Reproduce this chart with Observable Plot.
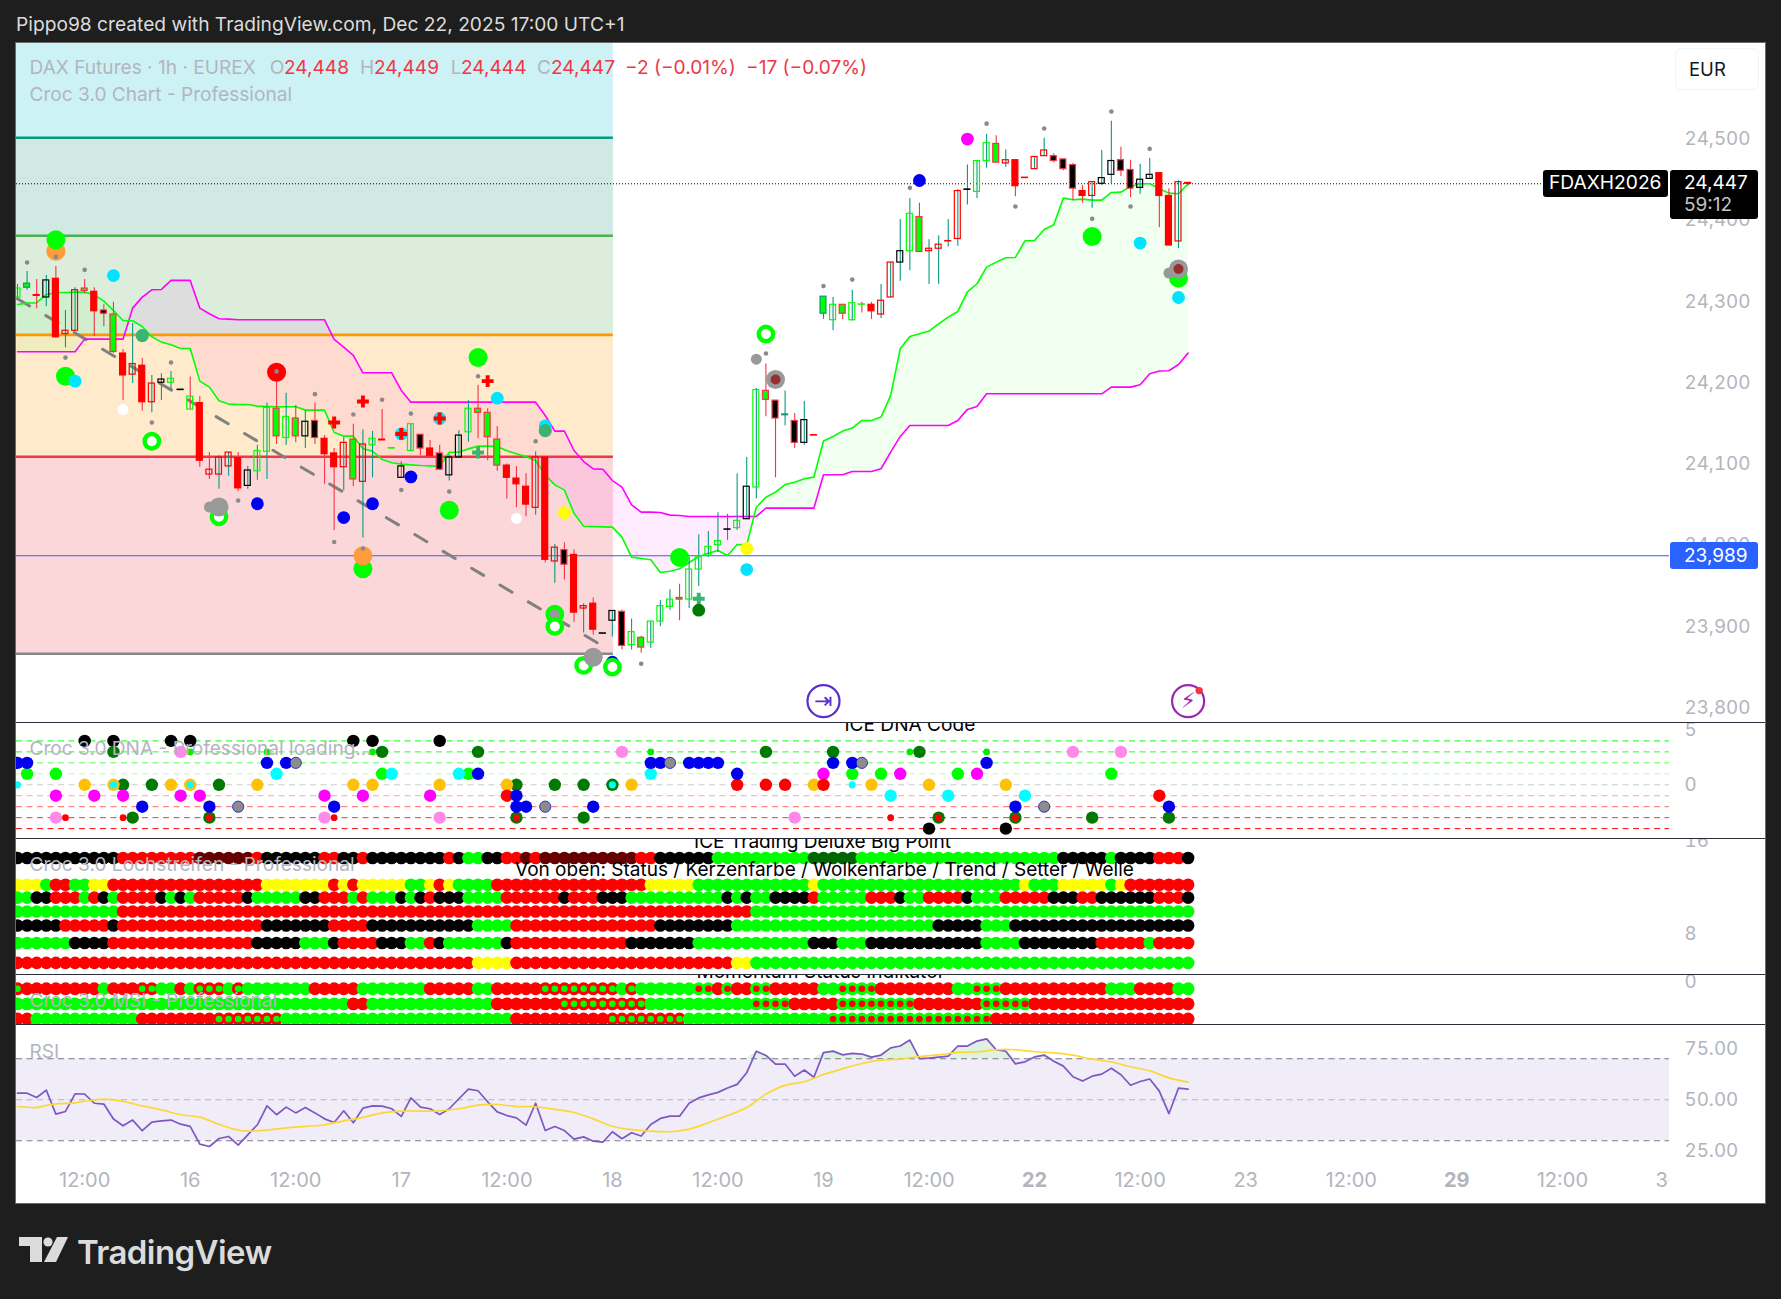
<!DOCTYPE html>
<html><head><meta charset="utf-8">
<script src="https://cdn.jsdelivr.net/npm/d3@7"></script>
<script src="https://cdn.jsdelivr.net/npm/@observablehq/plot@0.6"></script>
<style>
html,body{margin:0;padding:0;background:#1e1e1e;}
#page{position:relative;width:1781px;height:1299px;overflow:hidden;background:#1e1e1e;font-family:Inter,"Noto Sans",sans-serif;}
#card{position:absolute;left:15px;top:42px;width:1749px;height:1160px;background:#fff;border:1px solid #6a6a6a;}
.t{position:absolute;white-space:nowrap;line-height:1;transform:translateY(-50%);}
.g{color:#b2b5be;font-size:19.1px;}
.r{color:#f23645;font-size:19.1px;}
.line{position:absolute;left:16px;width:1749px;height:1.4px;background:#2a2e39;}
svg{max-width:none;}
</style></head><body><div id="page"><div id="card"></div></div>
<script>
// ---------- candles (price, one entry per 1h bar) ----------
const high=[24323,24339,24329,24334,24345,24291,24319,24329,24319,24298,24301,24243,24275,24232,24211,24213,24216,24193,24209,24185,24116,24112,24116,24116,24099,24125,24177,24215,24189,24174,24167,24177,24137,24121,24135,24151,24144,24142,24169,24121,24105,24151,24138,24131,24125,24113,24143,24180,24199,24170,24148,24102,24099,24090,24117,24110,24003,24005,23996,23930,23937,23893,23921,23922,23911,23890,23908,23934,23947,23954,23987,24015,24019,24042,24040,24090,24110,24195,24225,24180,24192,24164,24179,24137,24308,24307,24298,24316,24301,24301,24323,24350,24403,24429,24423,24378,24383,24403,24440,24470,24475,24508,24506,24489,24476,24454,24480,24503,24484,24477,24472,24445,24449,24488,24524,24492,24476,24471,24478,24460,24441,24451,24449];
const bodyTop=[24318,24324,24310,24328,24330,24266,24316,24318,24314,24291,24286,24238,24225,24223,24201,24206,24207,24193.5,24185,24177,24095,24110,24116,24109,24094,24118,24171,24170,24160,24158,24154,24155,24133,24115,24128,24132,24126,24133,24132,24121.5,24099,24151,24138,24121,24115,24110,24137,24170,24170,24165,24132,24100,24084,24074,24110,24110,23999,23996,23990,23927,23930,23893.5,23921,23920,23895,23888,23908,23927,23935,23937,23972,23988,24000,24007,24021.5,24032,24074,24193,24192,24180,24163,24155,24156,24137.5,24308,24298,24298,24300,24298.5,24298,24303,24350,24364,24410,24406,24367,24372,24376.5,24438,24440,24475,24497,24496,24476,24476,24454.5,24480,24488,24481,24477,24470,24438,24449,24454,24475,24476,24464,24452,24458,24460,24432,24449,24448];
const bodyBottom=[24307,24319,24309,24307,24258,24262,24266,24315,24290,24287,24240,24211,24212,24178,24178,24202,24202,24193,24169,24106,24089,24089,24099,24072,24075,24093,24117,24136,24134,24136,24136,24134,24114,24098,24098,24083,24080,24125,24131,24121,24085,24118,24121,24112,24095,24088,24110,24141,24165,24135,24100,24085,24077,24052,24048,23984,23982,23978,23919,23924,23898,23893,23909,23878,23879,23876,23882,23908,23926,23935,23935,23972,23989,24002,24021,24023,24034,24073,24181,24158,24162,24128,24128,24137,24287,24279,24287,24279,24298,24290,24286,24307,24350,24364,24363,24364,24367,24376,24379,24439.5,24437,24475,24473,24472,24444,24454,24465,24481,24475,24465,24441,24432,24432,24447,24458,24463,24441,24442,24453,24432,24371,24376,24447];
const low=[24305,24316,24293,24296,24257,24245,24266,24311,24259,24271,24238,24180,24201,24167,24165,24180,24193,24193,24169,24098,24083,24071,24087,24068,24071,24082,24083,24126,24125,24128,24121,24126,24077,24020,24069,24074,24011,24085,24131,24121,24085,24118,24112,24112,24094,24081,24110,24129,24133,24106,24093,24059,24048,24037,24039,23980,23955,23959,23907,23894,23891,23893,23889,23873,23873,23869,23875,23902,23922,23909,23924,23951,23987,23993,24008,24020,24034,24059,24160,24085,24149,24121,24125,24137,24280,24266,24280,24278,24288,24280,24281,24307,24327,24340,24363,24323,24323,24369,24370,24421,24429,24466,24473,24467,24431,24454,24465,24481,24473,24463,24426,24423,24417,24445,24447,24456,24430,24434,24453,24393,24371,24367,24444];
const candleStyle="gTRkRrrGRKGRrRrkgkhRqrrRkggGgGkKRRrGrgRgjgKRKkkgGGGRRRrRrKRrRkkKgGgggGggggkgkgGKTKkRTgGghRrrkgGrrrrkggGrRRrrKKKRrkkKKkkRRrR".split("");
// ---------- cloud ----------
const fastLine=[24298.4,24300,24300.5,24310.7,24312.8,24313.2,24313.6,24313.6,24310.3,24302.5,24291,24278.7,24278.3,24271.3,24258.6,24252,24248.8,24244.2,24244.2,24204,24196.6,24179.8,24175.7,24175.3,24175.3,24173.2,24172.8,24172.4,24172.4,24172.4,24168.3,24168.3,24168.3,24140.8,24136.3,24136.3,24120.7,24117.8,24107.6,24103.5,24101.8,24100.9,24100.1,24099.7,24098.9,24116.5,24116.5,24120.6,24124,24124,24123.5,24118.2,24114.5,24110.8,24106.3,24088.2,24076.3,24069.8,24041.4,24025.4,24025,24024.6,24024.2,24011.9,23987.3,23985.6,23984,23968.4,23970,23972.9,23980.7,23988.1,23992.2,23995.5,23989.3,24002.9,24002.4,24048.8,24061.1,24067.3,24076.7,24079.6,24083.8,24085.8,24130.2,24135.9,24142.5,24146.2,24155.6,24155.6,24159.7,24186.4,24243.8,24259,24262.3,24265.6,24274.6,24282.8,24289.8,24314,24323.9,24344.4,24350.5,24355.9,24356.3,24376.8,24377.2,24390.8,24396.5,24429.3,24427.3,24428.1,24426.9,24426.9,24436.3,24436.7,24443.7,24447,24447,24440.8,24435.5,24434.7,24447];
const slowLine=[24240.1,24240.1,24240.1,24240.1,24240.1,24240.1,24240.1,24255.7,24255.7,24255.7,24255.7,24255.7,24293.9,24307.4,24316.5,24316.9,24328,24328,24328,24293.9,24286.9,24280.8,24280.3,24279.5,24279.5,24279.5,24279.5,24279.5,24279.5,24279.5,24279.5,24279.5,24279.5,24255.3,24245.9,24235.6,24214.3,24214.3,24214.3,24214.3,24192.5,24178.1,24178.1,24178.1,24178.1,24178.1,24178.1,24178.1,24178.1,24178.1,24178.1,24178.1,24178.1,24178.1,24178.1,24161.7,24142.4,24142.4,24118.6,24105,24096,24095.6,24081.6,24073.4,24051.7,24042.7,24042.7,24042.3,24039,24038.6,24037.4,24037.4,24037.4,24037.4,24037.4,24037.4,24037.4,24037.4,24047.6,24047.6,24047.6,24047.6,24047.6,24047.6,24088.7,24088.7,24088.7,24092.8,24092.8,24092.8,24096.1,24116.6,24135.9,24149.4,24149.4,24149.4,24149.4,24149.4,24155.6,24169.2,24172.8,24188.4,24188.4,24188.4,24188.4,24188.4,24188.4,24188.4,24188.4,24188.4,24188.4,24188.4,24188.4,24188.4,24196.6,24196.6,24196.6,24199.5,24213,24216.4,24216.8,24224.5,24238.5];
// ---------- levels ----------
const fibLevels=[24503.6,24383,24261,24110.9,23868.3];
const fibLineColors=["#089981","#4caf50","#ff9800","#f23645","#888888"];
const fibBandColors=["#cdf2f5","#d0eae3","#dceedb","#ffebcc","#fcd7da"];
const lastPrice=24447, alertPrice=23989;
const trendFrom=[0,24305.4], trendTo=[60.6,23880.6];
const priceTicks=[24500,24400,24300,24200,24100,24000,23900,23800];
// ---------- markers on the price pane ----------
const dotOrangeUnder=[[4,24364]], dotOrangeOver=[[36,23989]];
const dotGreen=[[4,24378],[5,24210],[48,24233],[36,23973],[45,24045],[69,23987],[112,24382],[121,24331]];
const dotRed=[[27,24215]];
const dotCyan=[[6,24204],[10,24334],[44,24158],[40,24139],[50,24183],[55,24149],[76,23972],[117,24374],[121,24307]];
const dotBlue=[[25,24053],[34,24036],[37,24053],[41,24086],[94,24451],[62,23858]];
const dotWhite=[[11,24169],[52,24035]];
const dotMagenta=[[99,24502]];
const dotYellow=[[57,24042],[76,23998]];
const dotDark=[[71,23922]];
const dotSea=[[13,24260],[55,24143]];
const crossSea=[[48,24116],[71,23936]];
const crossRed=[[33,24153],[36,24179],[40,24139],[44,24158],[49,24204]];
const ringWhite=[[14,24130],[21,24037],[56,23902],[59,23854],[62,23852],[78,24262]];
const ringGray=[[56,23917]];
const grayLarge=[[21,24049],[60,23864],[79,24206],[121,24342]];
const grayMid=[[20,24049],[77,24231],[120,24337]];
const brown=[[79,24206],[121,24342]];
const graySmall=[[1,24350],[4,24357],[7,24341],[5,24233],[16,24227],[14,24153],[23,24057],[27,24216],[31,24188],[33,24006],[36,23998],[35,24163],[38,24181],[40,24070],[41,24164],[48,24210],[54,24130],[45,24068],[65,23856],[78,24238],[84,24321],[87,24329],[93,24442],[101,24521],[104,24419],[107,24515],[112,24404],[114,24536],[116,24419],[118,24490]];
const eventBars=[84,122], eventPrice=23810, eventBadge=[[123.15,23823]];
// ---------- DNA pane ----------
const dnaLevels=[4,3,2,1,0,-1,-2,-3,-4];
const dnaLevelColors=["#00ff00","#22ff22","#55ff55","#b4ffb4","#cccccc","#ffa6a6","#ff6666","#ff3333","#ff0000"];
const dnaBlack=[[7,4],[10,4],[16,4],[18,4],[35,4],[37,4],[44,4],[95,-4],[103,-4]];
const dnaDarkGreen=[[10,3],[38,3],[48,3],[11,0],[14,0],[21,0],[52,0],[56,0],[59,0],[62,0],[78,3],[85,3],[94,3],[12,-3],[20,-3],[52,-3],[59,-3],[96,-3],[104,-3],[112,-3],[120,-3]];
const dnaBlue=[[0,2],[1,2],[26,2],[28,2],[48,1],[13,-2],[20,-2],[33,-2],[52,-1],[52,-2],[53,-2],[60,-2],[66,2],[67,2],[70,2],[71,2],[72,2],[73,2],[75,1],[85,2],[87,2],[101,2],[104,-2],[120,-2]];
const dnaGreen=[[1,1],[4,1],[38,1],[47,1],[87,1],[90,1],[98,1],[114,1]];
const dnaOrange=[[7,0],[10,0],[16,0],[18,0],[25,0],[35,0],[37,0],[44,0],[51,0],[64,0],[83,0],[89,0],[95,0],[103,0]];
const dnaMagenta=[[4,-1],[8,-1],[11,-1],[17,-1],[19,-1],[32,-1],[36,-1],[43,-1],[84,1],[92,1],[100,1]];
const dnaPink=[[17,3],[4,-3],[32,-3],[44,-3],[63,3],[81,-3],[110,3],[115,3]];
const dnaCyan=[[27,1],[39,1],[46,1],[66,1],[91,-1],[97,-1],[105,-1]];
const dnaRed=[[51,-1],[75,0],[78,0],[80,0],[84,0],[119,-1]];
const dnaGray=[[29,2],[23,-2],[55,-2],[68,2],[88,2],[107,-2]];
const dnaSmallGreen=[[18,3],[26,3],[37,3],[66,3],[93,3],[101,3]];
const dnaSmallRed=[[5,-3],[11,-3],[20,-3],[33,-3],[52,-3],[91,-3],[96,-3],[104,-3]];
const dnaSmallCyan=[[0,0],[10,0],[18,0],[62,0],[87,0]];
// ---------- Lochstreifen pane: runs of [colour code, bars] ----------
const lochRowValues=[14.5,12.2,11.1,9.9,8.7,7.2,5.5];
const loch0=[["k",11],["r",8],["d",6],["r",1],["k",6],["r",2],["k",2],["r",1],["k",8],["r",1],["k",1],["g",2],["k",2],["r",2],["d",1],["r",1],["d",10],["r",2],["k",6],["g",10],["D",5],["g",21],["k",5],["g",1],["k",4],["r",3],["k",1]];
const loch1=[["y",3],["g",1],["r",2],["g",2],["y",2],["r",16],["y",7],["r",1],["y",1],["r",1],["y",5],["g",2],["y",1],["r",1],["y",1],["g",4],["r",16],["y",5],["g",12],["y",1],["g",21],["y",1],["g",3],["y",5],["g",1],["y",1],["r",7]];
const loch2=[["g",2],["k",2],["r",3],["g",1],["r",1],["k",1],["g",1],["r",4],["k",1],["g",1],["k",1],["g",1],["r",5],["k",1],["g",5],["k",2],["r",3],["g",1],["r",1],["g",3],["k",1],["g",1],["k",1],["r",1],["k",3],["g",4],["r",6],["k",1],["r",3],["k",3],["g",10],["k",1],["g",1],["k",1],["g",2],["k",4],["r",1],["g",5],["r",3],["k",1],["g",2],["r",4],["k",1],["g",3],["r",5],["k",3],["r",2],["k",6],["r",3],["k",1]];
const loch3=[["g",11],["r",66],["g",46]];
const loch4=[["k",5],["r",5],["k",1],["r",15],["k",7],["r",4],["k",11],["g",4],["r",15],["k",8],["g",21],["k",5],["g",3],["k",19]];
const loch5=[["g",6],["k",4],["r",15],["k",5],["g",3],["k",1],["r",4],["k",3],["g",2],["r",1],["k",1],["g",6],["k",1],["r",12],["k",7],["g",12],["k",3],["g",3],["k",12],["g",4],["k",8],["r",5],["g",1],["r",4]];
const loch6=[["r",48],["y",4],["r",23],["y",2],["g",46]];
// ---------- MSI pane: R = red with green centre, G = green with red centre ----------
const msiRowValues=[-0.5,-1.5,-2.5];
const msi0=[["R",1],["r",8],["g",1],["r",3],["R",2],["g",2],["r",1],["g",1],["R",3],["g",1],["R",1],["g",7],["r",5],["g",7],["r",5],["g",2],["r",5],["R",8],["g",1],["R",1],["g",6],["G",2],["r",1],["G",1],["r",2],["G",2],["r",5],["g",2],["G",4],["r",8],["g",2],["G",3],["r",11],["g",3],["r",4],["g",2]];
const msi1=[["g",35],["r",2],["g",13],["r",7],["R",9],["g",11],["G",4],["r",5],["G",8],["r",7],["G",5],["r",17]];
const msi2=[["r",2],["g",11],["r",8],["R",7],["g",24],["r",10],["R",8],["g",15],["G",17],["r",21]];
// ---------- RSI pane ----------
const rsi=[53.2,53.2,51.1,54.7,43,44.3,52.9,52.8,48.3,47.9,40.6,37.3,40.1,34.9,39.1,39.7,40.1,38.1,37,28.4,27.2,31.1,32.1,27.9,32.9,37.8,47,42.7,46.4,43.6,46.2,43.6,40.7,38.9,44.6,38.8,45.9,47,46.9,45.6,41.9,50.9,46.4,45.6,42.8,45.6,50.5,55.2,54.4,49,44.1,42.3,41.2,37.6,48.3,35,37,35,30.8,31.9,29.8,29.3,34.4,31,33.9,32.3,37.9,40.9,42,42,48.3,50.9,52.4,53.6,55.7,57.5,63.2,73.7,71.6,67.4,67.4,61.5,64.5,61,73,73.7,71.9,72.6,72.3,70.8,71.8,75.3,76.2,79.1,70.1,70.3,70.8,71.3,76.2,76.2,78.6,79.7,74.4,73.7,67.5,68.5,70.9,71.8,68.8,66.4,61.2,59.1,61.5,62.5,65.4,62.2,57.1,58.9,60.1,54.2,43.2,55.7,55.2];
const rsiMa=[[0,46.7],[2,46.2],[3,47.2],[4,48],[6,48.5],[7,49.3],[9,50.3],[11,49.2],[13,47],[15,45.1],[17,42.7],[19,41.5],[21,38],[23,35.2],[24,34.7],[26,35.2],[28,36.3],[30,37],[32,37.8],[34,39.7],[36,41.4],[38,43.6],[40,44.5],[42,44.5],[44,44.6],[46,45.6],[48,47.4],[50,47.7],[52,46.7],[54,46.6],[56,45.3],[58,43.8],[60,40.7],[62,37.1],[64,35.4],[66,34.7],[68,34.4],[70,35.7],[72,38.8],[74,42.3],[76,46.2],[78,52.7],[80,57],[82,58.8],[84,62.3],[86,65.1],[88,67.7],[90,69.3],[92,69.8],[94,71.1],[96,71.9],[98,73.1],[100,73.4],[102,74.4],[104,74.4],[106,73.4],[108,72.9],[110,71.8],[112,69.8],[114,68.4],[116,66.1],[118,64.1],[120,60.7],[122,58.6]];
const rsiBands=[70,50,30];
const rsiBandColors=["#787b86","#b2b5be","#787b86"];
// ---------- time axis ----------
const timeBars=[7,18,29,40,51,62,73,84,95,106,117,128,139,150,161,172];
const timeLabels=["12:00","16","12:00","17","12:00","18","12:00","19","12:00","22","12:00","23","12:00","29","12:00","30"];
const boldLabels=["22","29"];

// ---------- helpers ----------
const page=document.getElementById("page");
const xDomain=[-0.104,172.17];
const bars=d3.range(123);
const pts=a=>a.map(([i,v])=>({i,v}));
const dots=(a,fill,r,extra={})=>Plot.dot(pts(a),{x:"i",y:"v",fill,r,...extra});
function addPane(top,height,yDomain,ticks,fmt,marks,labelDy=0.5){
  const svg=Plot.plot({width:1749,height,marginLeft:0,marginRight:96,marginTop:0,marginBottom:0,
    x:{domain:xDomain,axis:null},y:{domain:yDomain,axis:null},color:{type:"identity"},
    style:{background:"transparent",fontFamily:"Inter, sans-serif",fontSize:"18.8px",overflow:"hidden"},
    marks:[...marks,Plot.axisY({anchor:"right",ticks,tickFormat:fmt,tickSize:0,tickPadding:15,label:null,color:"#b2b5be",dy:labelDy})]});
  svg.style.position="absolute";svg.style.left="16px";svg.style.top=top+"px";
  page.appendChild(svg);
  return svg;
}
const expand=runs=>runs.flatMap(([c,n])=>d3.range(n).map(()=>c));
const colorCode={k:"#000000",r:"#ff0000",g:"#00ff00",y:"#ffff00",d:"#660000",D:"#006600",R:"#ff0000",G:"#00ff00"};
const rowTable=(rows,values)=>rows.flatMap((runs,row)=>expand(runs).map((c,i)=>({i,v:values[row],c})));

// ---------- price pane ----------
const styleFill={R:"#ff0000",r:"none",q:"none",G:"#00ff00",g:"none",h:"none",K:"#000000",k:"none",j:"none",T:"#00ff00"};
const styleStroke={R:"#ff0000",r:"#ff0000",q:"#ff0000",G:"#f23645",g:"#00ff00",h:"#00ff00",K:"#f23645",k:"#000000",j:"#000000",T:"#089981"};
const styleWick={R:"#f23645",r:"#089981",q:"#f23645",G:"#f23645",g:"#089981",h:"#f23645",K:"#f23645",k:"#089981",j:"#f23645",T:"#089981"};
const fibEdges=[24620,...fibLevels];
const ring=(a,fill)=>dots(a,fill,7.2,{stroke:"#00ff00",strokeWidth:4.4});
const pricePlot=addPane(43,679,[23783.7,24619.7],priceTicks,d3.format(",.0f"),[
  Plot.rect(fibBandColors,{x1:xDomain[0],x2:62.1,y1:(d,k)=>fibEdges[k+1],y2:(d,k)=>fibEdges[k],fill:d=>d}),
  Plot.areaY(bars,{x:d=>d,y1:d=>slowLine[d],y2:d=>Math.max(slowLine[d],fastLine[d]),fill:"#00ff00",fillOpacity:.06}),
  Plot.areaY(bars,{x:d=>d,y1:d=>slowLine[d],y2:d=>Math.min(slowLine[d],fastLine[d]),fill:"#ff00ff",fillOpacity:.07}),
  Plot.ruleY(fibLevels,{x1:xDomain[0],x2:62.1,stroke:(d,k)=>fibLineColors[k],strokeWidth:2.6}),
  Plot.ruleY([alertPrice],{stroke:"#2962ff",strokeWidth:1}),
  Plot.ruleY([lastPrice],{stroke:"#000",strokeWidth:1,strokeDasharray:"1,2"}),
  Plot.line([trendFrom,trendTo],{x:d=>d[0],y:d=>d[1],stroke:"#808080",strokeWidth:3,strokeDasharray:"14,19"}),
  Plot.line(bars,{x:d=>d,y:d=>slowLine[d],stroke:"#ff00ff",strokeWidth:1.6}),
  Plot.line(bars,{x:d=>d,y:d=>fastLine[d],stroke:"#00ff00",strokeWidth:1.6}),
  Plot.ruleX(bars,{x:d=>d,y1:d=>low[d],y2:d=>high[d],stroke:d=>styleWick[candleStyle[d]],strokeWidth:1.1}),
  Plot.rect(bars,{x1:d=>d-.31,x2:d=>d+.31,y1:d=>bodyBottom[d],y2:d=>bodyTop[d],fill:d=>styleFill[candleStyle[d]],stroke:d=>styleStroke[candleStyle[d]],strokeWidth:1.2}),
  dots(dotOrangeUnder,"#ff9d3c",9.5),
  dots(dotGreen,"#00ff00",9.5),
  dots(dotOrangeOver,"#ff9d3c",9.5),
  dots(dotRed,"#ff0000",9.5),
  dots(dotCyan,"#00e5ff",6.4),
  dots(dotBlue,"#0000ee",6.4),
  dots(dotWhite,"#ffffff",5.5),
  dots(dotMagenta,"#ff00ff",6.4),
  dots(dotYellow,"#ffff00",6.4),
  dots(dotSea,"#3cb371",6.6),
  dots(crossRed,"#ff0000",5,{symbol:"cross"}),
  dots(crossSea,"#3cb371",5,{symbol:"cross"}),
  ring(ringGray,"#999999"),ring(ringWhite,"#ffffff"),
  dots(dotDark,"#007a00",6.4),
  dots(grayLarge,"#999999",9.5),
  dots(grayMid,"#999999",5.5),
  dots(brown,"#943030",5),
  dots(graySmall,"#8a8a8a",2.3),
  Plot.dot(eventBars,{x:d=>d,y:eventPrice,r:16,fill:"#fff",stroke:(d,k)=>k?"#9c27b0":"#5a2fd0",strokeWidth:2.2}),
  Plot.text(eventBars,{x:d=>d,y:eventPrice,text:(d,k)=>k?"\u26A1":"\u21E5",fill:(d,k)=>k?"#9c27b0":"#5a2fd0",fontSize:22,fontFamily:"DejaVu Sans"}),
  dots(eventBadge,"#f23645",3.7)
],-1.5);

// ---------- DNA pane ----------
const dnaText=["ICE DNA Code"];
addPane(722,116,[-4.9,5.68],[5,0],d=>d,[
  Plot.ruleY(dnaLevels,{stroke:(d,k)=>dnaLevelColors[k],strokeWidth:1,strokeDasharray:"6,4.5"}),
  dots(dnaBlack,"#000000",6.2),
  dots(dnaDarkGreen,"#007a00",6.2),
  dots(dnaOrange,"#ffc107",6.2),
  dots(dnaGreen,"#00ff00",6.2),
  dots(dnaCyan,"#00ffff",6.2),
  dots(dnaMagenta,"#ff00ff",6.2),
  dots(dnaPink,"#ff88e8",6.2),
  dots(dnaRed,"#ff0000",6.2),
  dots(dnaBlue,"#0000ee",6.2),
  dots(dnaGray,"#8c8c8c",5.6,{stroke:"#2222bb",strokeWidth:.9}),
  dots(dnaSmallGreen,"#00ee00",3.4),
  dots(dnaSmallRed,"#ff0000",3.4),
  dots(dnaSmallCyan,"#00ffff",3.6),
  Plot.text(dnaText,{x:93,y:5.5,text:d=>d,fill:"#000",fontSize:19.1})
]);

// ---------- Lochstreifen pane ----------
addPane(838,136,[4.5,16.17],[16,8],d=>d,[
  Plot.dot(rowTable([loch0,loch1,loch2,loch3,loch4,loch5,loch6],lochRowValues),{x:"i",y:"v",r:6.3,fill:d=>colorCode[d.c]}),
  Plot.text(["ICE Trading Deluxe Big Point"],{x:83.9,y:15.87,text:d=>d,fill:"#000",fontSize:19.1}),
  Plot.text(["Von oben: Status / Kerzenfarbe / Wolkenfarbe / Trend / Setter / Welle"],{x:84.1,y:13.47,text:d=>d,fill:"#000",fontSize:19})
]);

// ---------- MSI pane ----------
const msiTable=rowTable([msi0,msi1,msi2],msiRowValues);
addPane(974,50,[-2.867,0.444],[0],d=>d,[
  Plot.text(["Momentum Status Indikator"],{x:83.7,y:0.64,text:d=>d,fill:"#000",fontSize:19.1}),
  Plot.dot(msiTable,{x:"i",y:"v",r:6.4,fill:d=>colorCode[d.c]}),
  Plot.dot(msiTable.filter(d=>d.c==="R"),{x:"i",y:"v",r:3.3,fill:"#00ff00"}),
  Plot.dot(msiTable.filter(d=>d.c==="G"),{x:"i",y:"v",r:3.3,fill:"#ff0000"})
]);

// ---------- RSI pane ----------
addPane(1024,178,[-0.1,86.7],[75,50,25],d3.format(".2f"),[
  Plot.rect([0],{x1:xDomain[0],x2:xDomain[1],y1:30,y2:70,fill:"#f0ecf8"}),
  Plot.ruleY(rsiBands,{stroke:(d,k)=>rsiBandColors[k],strokeWidth:1.1,strokeDasharray:"6,4.5"}),
  Plot.areaY(bars,{x:d=>d,y1:70,y2:d=>Math.max(70,rsi[d]),fill:"#4caf50",fillOpacity:.18}),
  Plot.line(bars,{x:d=>d,y:d=>rsi[d],stroke:"#7e57c2",strokeWidth:1.7}),
  Plot.line(pts(rsiMa),{x:"i",y:"v",stroke:"#fdd835",strokeWidth:1.7,curve:"catmull-rom"}),
  Plot.text(timeBars,{filter:(d,k)=>!boldLabels.includes(timeLabels[k]),x:d=>d,text:(d,k)=>timeLabels[k],frameAnchor:"bottom",dy:-16,fill:"#b2b5be",fontSize:20,clip:true}),
  Plot.text(timeBars,{filter:(d,k)=>boldLabels.includes(timeLabels[k]),x:d=>d,text:(d,k)=>timeLabels[k],frameAnchor:"bottom",dy:-16,fill:"#b2b5be",fontSize:20,fontWeight:"bold",clip:true})
],0);

// ---------- separators, legends, tags ----------
function html(cls,x,y,text,css=""){
  const e=document.createElement("div");e.className="t "+cls;e.style.cssText=`left:${x}px;top:${y}px;${css}`;e.textContent=text;page.appendChild(e);return e;
}
[722,838,974,1024].forEach(y=>{const l=document.createElement("div");l.className="line";l.style.top=y+"px";page.appendChild(l);});
html("",16,25,"Pippo98 created with TradingView.com, Dec 22, 2025 17:00 UTC+1","color:#dbdbdb;font-size:19.2px;");
html("g",29.5,68,"DAX Futures · 1h · EUREX");
html("g",269.7,68,"O");html("r",284,68,"24,448");
html("g",360,68,"H");html("r",374,68,"24,449");
html("g",450.8,68,"L");html("r",461,68,"24,444");
html("g",537,68,"C");html("r",551,68,"24,447");
html("r",625,68,"−2 (−0.01%)");html("r",746,68,"−17 (−0.07%)");
html("g",29.5,95,"Croc 3.0 Chart - Professional");
html("g",29.5,749,"Croc 3.0 DNA - Professional loading...");
html("g",29.5,865,"Croc 3.0 Lochstreifen - Professional");
html("g",29.5,1001,"Croc 3.0 MSI - Professional");
html("g",29.5,1052,"RSI");
// EUR button
const eur=document.createElement("div");eur.style.cssText="position:absolute;left:1675px;top:48px;width:84px;height:42px;border:1px solid #f0f3fa;border-radius:6px;background:#fff;box-sizing:border-box;";page.appendChild(eur);
html("",1689,69,"EUR","color:#131722;font-size:18.5px;");
// price tags placed through the pane's own y scale
const yPrice=pricePlot.scale("y");
const yLast=43+yPrice.apply(lastPrice), yAlert=43+yPrice.apply(alertPrice);
function box(x,y,w,h,bg,r="3px"){const b=document.createElement("div");b.style.cssText=`position:absolute;left:${x}px;top:${y}px;width:${w}px;height:${h}px;background:${bg};border-radius:${r};`;page.appendChild(b);}
box(1543,yLast-13.3,125,26.6,"#000");
box(1670,yLast-13.3,88,48.8,"#000");
box(1670,yAlert-13,88,27,"#2962ff");
html("",1549,yLast,"FDAXH2026","color:#fff;font-size:19.2px;");
html("",1684,yLast-1,"24,447","color:#fff;font-size:19px;");
html("",1684,yLast+21,"59:12","color:#c4c4c4;font-size:19px;");
html("",1684,yAlert,"23,989","color:#fff;font-size:19px;");
// footer
const logo=document.createElementNS("http://www.w3.org/2000/svg","svg");
logo.setAttribute("width","60");logo.setAttribute("height","34");logo.setAttribute("viewBox","0 0 60 34");
logo.style.cssText="position:absolute;left:16px;top:1235px;";
logo.innerHTML='<path fill="#dbdbdb" d="M3 2h23v25H14V11H3z"/><circle fill="#dbdbdb" cx="32" cy="7" r="4.6"/><path fill="#dbdbdb" d="M41 2h11L40 27H28z"/>';
page.appendChild(logo);
html("",77,1252,"TradingView","color:#dbdbdb;font-size:33px;font-weight:600;letter-spacing:-.6px;");
</script></body></html>
